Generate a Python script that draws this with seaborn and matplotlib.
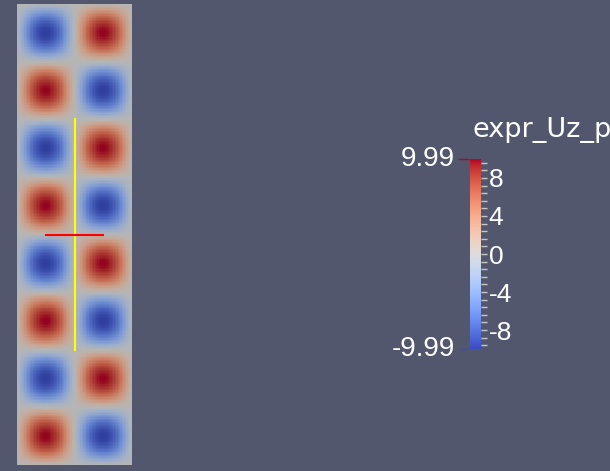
import numpy as np
import seaborn as sns
import matplotlib.pyplot as plt
from matplotlib.colors import ListedColormap

# field: 8 rows x 2 cols of bumps, sign (top row first)
cell_signs = [[-1, 1],
              [1, -1],
              [-1, 1],
              [1, -1],
              [-1, 1],
              [1, -1],
              [-1, 1],
              [1, -1]]
peak = 9.99
vmin, vmax = -9.99, 9.99
title = "expr_Uz_p"
major_ticks = [-8, -4, 0, 4, 8]
minor_step = 0.8

# line widgets in field units (width 1, height 4, y measured downward)
yellow_x = [0.5, 0.5]
yellow_y = [1.0, 3.0]
red_x = [0.25, 0.75]
red_y = [2.0, 2.0]

bg = "#52576e"
res = 40  # samples per cell
signs = np.array(cell_signs)
bump = np.sin(np.pi * (np.arange(res) + 0.5) / res)
cell = np.outer(bump, bump)
field = peak * np.kron(signs, cell)

base = plt.get_cmap("coolwarm")(np.linspace(0, 1, 256))
lit = base.copy()
lit[:, :3] = lit[:, :3] * 0.82
lit_cmap = ListedColormap(lit)

plt.rcParams["font.family"] = ["Liberation Sans", "DejaVu Sans"]
fig = plt.figure(figsize=(6.1, 4.71), dpi=100, facecolor=bg)

ax = fig.add_axes([17 / 610, 6 / 471, 115 / 610, 461 / 471])
sns.heatmap(field, ax=ax, cmap=lit_cmap, vmin=vmin, vmax=vmax, cbar=False,
            xticklabels=False, yticklabels=False, rasterized=True)
scale = 2 * res
ax.plot(np.array(yellow_x) * scale, np.array(yellow_y) * scale, color="#ffff00", lw=1.5)
ax.plot(np.array(red_x) * scale, np.array(red_y) * scale, color="#ff0000", lw=1.5)
ax.axis("off")

# colour legend
cax = fig.add_axes([470 / 610, 122 / 471, 11 / 610, 190 / 471])
levels = np.linspace(vmin, vmax, 256)
cax.imshow(levels[:, None], cmap="coolwarm", aspect="auto", origin="lower",
           extent=[0, 1, vmin, vmax], vmin=vmin, vmax=vmax)
cax.set_xlim(0, 1)
cax.set_ylim(vmin, vmax)
cax.set_xticks([])
cax.yaxis.tick_right()
cax.set_yticks(major_ticks)
cax.set_yticklabels([str(t) for t in major_ticks])
minor = np.arange(-12, 13) * minor_step
cax.set_yticks(minor[(minor > vmin) & (minor < vmax)], minor=True)
cax.tick_params(axis="y", which="both", direction="out", length=4.5, width=1,
                color="#c8c8c8", labelcolor="white", labelsize=19, pad=1)
for s in cax.spines.values():
    s.set_visible(False)

tr = cax.get_yaxis_transform()
cax.annotate("9.99", xy=(0, vmax), xycoords=tr, xytext=(-11, 0),
             textcoords="offset points", ha="right", va="center",
             color="white", fontsize=20)
cax.annotate("-9.99", xy=(0, vmin), xycoords=tr, xytext=(-11, 0),
             textcoords="offset points", ha="right", va="center",
             color="white", fontsize=20)
cax.plot([-1.0, -0.2], [vmax, vmax], transform=tr, clip_on=False,
         color=base[-1], lw=1)
cax.plot([-1.0, -0.2], [vmin, vmin], transform=tr, clip_on=False,
         color=base[0], lw=1)

fig.text(472 / 610, (471 - 137) / 471, title, ha="left", va="baseline",
         color="white", fontsize=19.5, family="DejaVu Sans")

fig.savefig("out.png", dpi=100, facecolor=bg)
